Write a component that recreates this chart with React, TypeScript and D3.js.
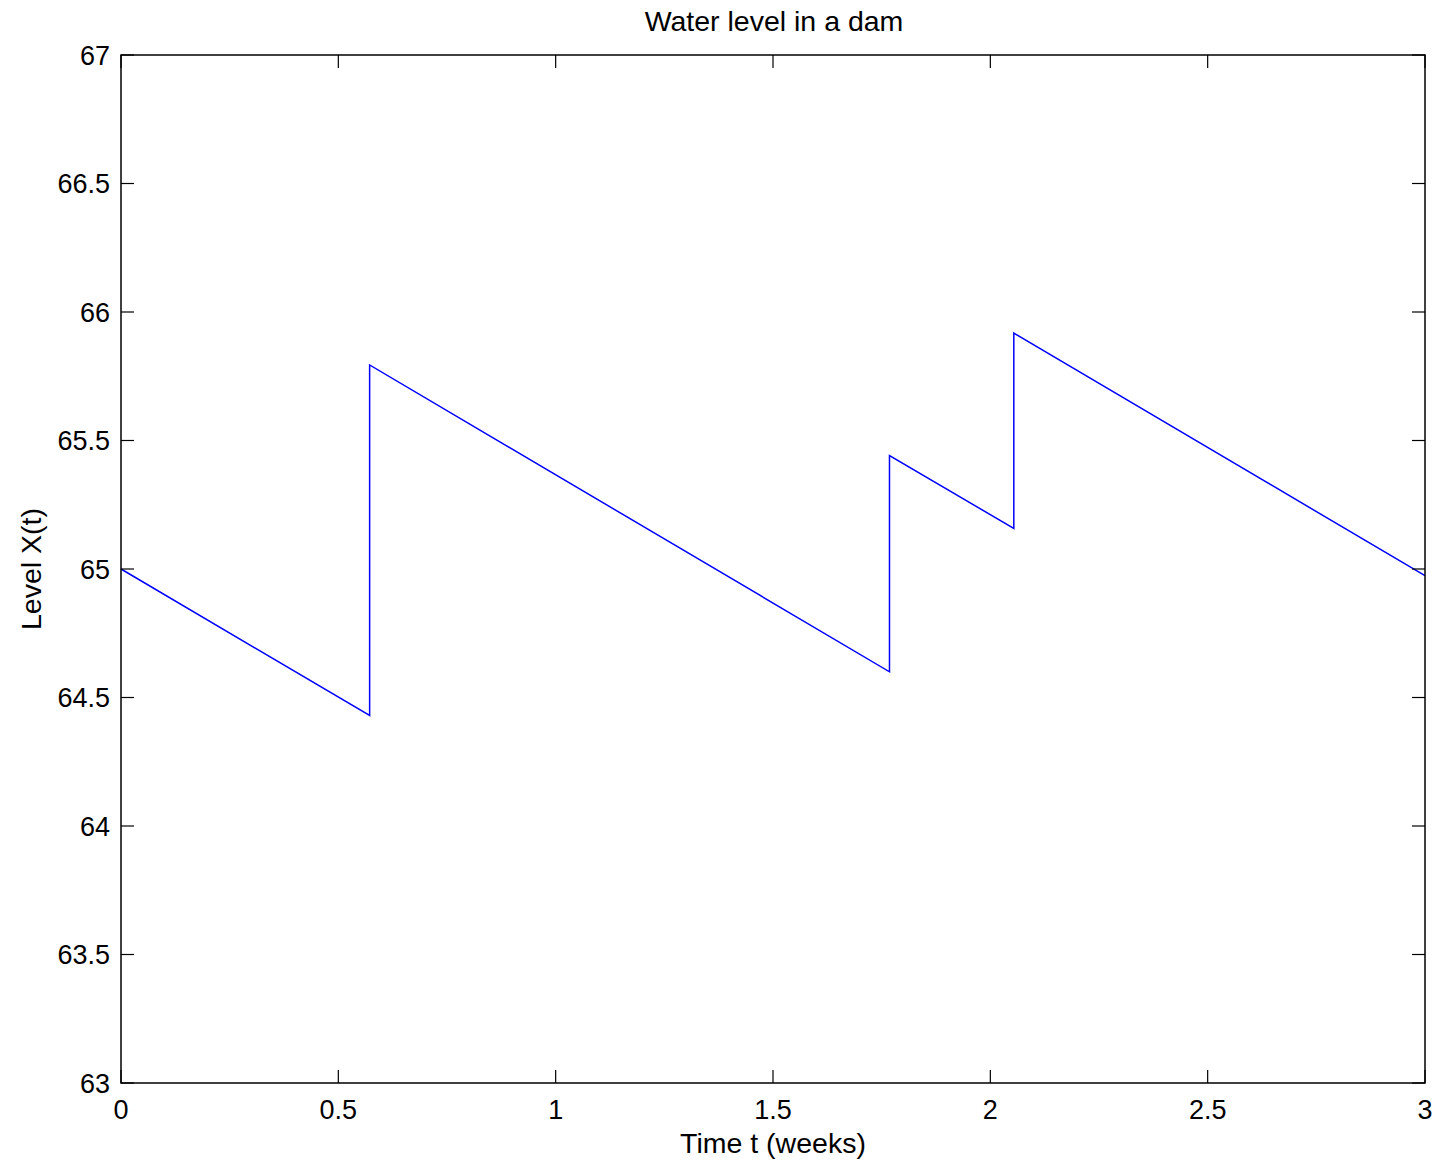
import React from "react";
import * as d3 from "d3";

const times = [0, 0.572, 0.572, 1.768, 1.768, 2.054, 2.054, 3];
const levels = [65, 64.43, 65.794, 64.6, 65.441, 65.158, 65.918, 64.974];
const xTicks = [0, 0.5, 1, 1.5, 2, 2.5, 3];
const yTicks = [63, 63.5, 64, 64.5, 65, 65.5, 66, 66.5, 67];
const title = "Water level in a dam";
const xLabel = "Time t (weeks)";
const yLabel = "Level X(t)";

export default function App() {
  const W = 1439, H = 1162;
  const left = 121, right = 1425, top = 55, bottom = 1083;
  const x = d3.scaleLinear().domain([0, 3]).range([left, right]);
  const y = d3.scaleLinear().domain([63, 67]).range([bottom, top]);
  const line = d3.line<number>().x((_, i) => x(times[i])).y((d) => y(d));
  const tl = 13;
  const font = "'Liberation Sans', Arial, Helvetica, sans-serif";
  return (
    <svg width={W} height={H} style={{ position: "absolute", left: 0, top: 0, background: "#fff" }} fontFamily={font}>
      <rect x={0} y={0} width={W} height={H} fill="#fff" />
      <path d={line(levels) || ""} fill="none" stroke="#0000ff" strokeWidth={1.5} />
      <rect x={left} y={top} width={right - left} height={bottom - top} fill="none" stroke="#000" strokeWidth={1.5} />
      {xTicks.map((t) => (
        <g key={"x" + t}>
          <line x1={x(t)} x2={x(t)} y1={bottom} y2={bottom - tl} stroke="#000" strokeWidth={1.2} />
          <line x1={x(t)} x2={x(t)} y1={top} y2={top + tl} stroke="#000" strokeWidth={1.2} />
          <text x={x(t)} y={1119} fontSize={27} textAnchor="middle">{t}</text>
        </g>
      ))}
      {yTicks.map((t) => (
        <g key={"y" + t}>
          <line x1={left} x2={left + tl} y1={y(t)} y2={y(t)} stroke="#000" strokeWidth={1.2} />
          <line x1={right} x2={right - tl} y1={y(t)} y2={y(t)} stroke="#000" strokeWidth={1.2} />
          <text x={110} y={y(t) + 9.5} fontSize={27} textAnchor="end">{t}</text>
        </g>
      ))}
      <text x={774} y={31} fontSize={28.5} textAnchor="middle">{title}</text>
      <text x={773} y={1153} fontSize={28.5} textAnchor="middle">{xLabel}</text>
      <text transform={`translate(41,${(top + bottom) / 2}) rotate(-90)`} fontSize={28.5} textAnchor="middle">{yLabel}</text>
    </svg>
  );
}
